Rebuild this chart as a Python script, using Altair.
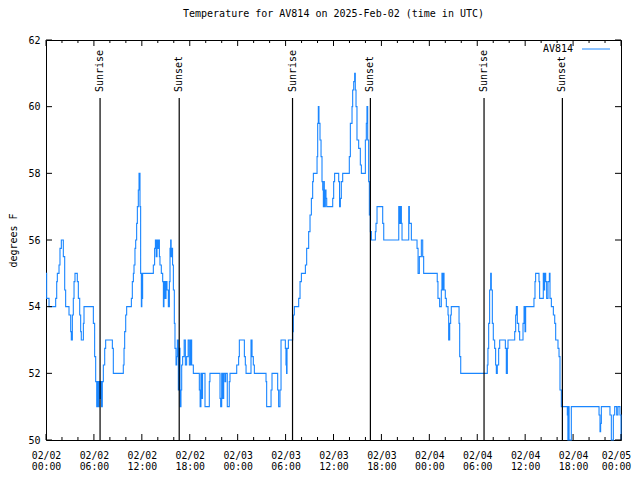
import altair as alt
import pandas as pd

# ---- data (hours since 2025-02-02 00:00 UTC, temperature in F; step-after) ----
hours = [
    0.0, 0.08, 0.38, 1.21, 1.34, 1.42, 1.63, 1.75, 1.92, 2.17, 2.34, 2.46, 2.88, 3.09, 3.17,
    3.30, 3.42, 3.51, 3.63, 3.92, 4.05, 4.22, 4.34, 4.42, 4.68, 4.76, 5.93, 6.09, 6.22, 6.35,
    6.45, 6.55, 6.65, 6.75, 6.85, 6.95, 7.05, 7.18, 7.35, 7.47, 8.31, 8.43, 9.68, 9.77, 9.85,
    9.98, 10.10, 10.69, 10.81, 10.94, 11.02, 11.14, 11.23, 11.35, 11.44, 11.56, 11.65, 11.77, 11.85, 11.94,
    12.0, 12.05, 12.1, 13.44, 13.6, 13.7, 13.8, 13.9, 14.0, 14.1, 14.2, 14.27, 14.44, 14.61, 14.7,
    14.77, 14.9, 15.03, 15.15, 15.32, 15.45, 15.53, 15.61, 15.67, 15.74, 15.85, 15.95, 16.07, 16.15, 16.28,
    16.36, 16.45, 16.57, 16.65, 16.78, 16.9, 16.99, 17.11, 17.3, 17.45, 17.61, 17.8, 17.95, 18.1, 18.24,
    18.45, 19.2, 19.3, 19.4, 19.49, 19.6, 19.91, 20.45, 20.53, 21.79, 21.87, 22.0, 22.12, 22.25, 22.41,
    22.5, 22.7, 22.95, 23.04, 23.88,
    24.12, 24.21, 24.84, 24.96, 25.05, 25.67, 25.8, 25.96, 26.09, 27.55, 27.63, 28.18, 28.3, 29.01, 29.13,
    29.3, 29.43, 29.97, 30.05, 30.12, 30.18, 30.35, 30.89, 30.97, 31.1, 31.64, 31.81, 31.98, 32.48, 32.64,
    32.89, 33.06, 33.23, 33.39, 33.48, 33.94, 34.02, 34.1, 34.18, 34.31, 34.44, 34.56, 34.65, 34.73, 34.8,
    34.85, 34.98, 35.06, 35.15, 35.9,
    36.02, 36.14, 36.65, 36.76, 36.86, 36.98, 37.15, 37.98, 38.11, 38.32, 38.4, 38.53, 38.65, 38.73, 38.82,
    38.94, 39.15, 39.36, 39.49, 39.99, 40.11, 40.19, 40.28, 40.4, 40.49, 40.61, 40.74, 41.24, 41.32, 41.45,
    42.16, 42.29, 44.17, 44.3, 44.37, 44.5, 44.58, 45.42, 45.5, 45.75, 46.46, 46.59, 46.75, 47.0, 47.17,
    47.29,
    48.99, 49.08, 49.29, 49.5, 49.58, 49.65, 49.71, 49.84, 50.0, 50.13, 50.34, 50.42, 50.55, 50.67, 50.75,
    51.72, 51.8, 51.93, 55.26, 55.34, 55.43, 55.55, 55.68, 55.76, 55.89, 56.01, 56.18, 56.3, 56.39, 56.51,
    56.68, 56.81, 57.52, 57.64, 57.77, 57.85, 58.69, 58.81, 58.9, 59.02, 59.19, 59.31, 59.73, 59.86, 59.98,
    60.06, 61.1, 61.23, 61.31, 61.73, 61.81, 62.27, 62.35, 62.44, 62.57, 62.69, 62.86, 63.03, 63.11, 63.28,
    63.53, 63.7, 63.82, 64.11, 64.24, 64.36, 64.53, 65.28, 65.35, 65.41, 65.5, 65.78, 69.25, 69.37, 69.45,
    69.54, 70.62, 70.79, 71.04, 71.21, 71.46, 71.62, 71.87, 72.0,
]
temps_f = [
    55.0, 54.25, 54.0, 54.25, 54.75, 55.0, 55.25, 55.75, 56.0, 55.5, 54.5, 54.0, 53.75, 53.25, 53.0,
    53.75, 54.25, 54.75, 55.0, 54.75, 54.25, 53.75, 53.25, 53.0, 53.5, 54.0, 53.5, 52.5, 51.75, 51.0,
    51.75, 51.0, 51.75, 51.25, 51.75, 51.0, 51.75, 52.25, 52.75, 53.0, 52.75, 52.0, 52.25, 52.75, 53.25,
    53.75, 54.0, 54.25, 54.75, 55.0, 55.25, 55.75, 56.0, 56.5, 57.0, 57.5, 58.0, 57.0, 55.0, 54.0,
    55.0, 54.25, 55.0, 55.25, 55.75, 56.0, 55.5, 56.0, 55.75, 56.0, 55.5, 55.25, 55.0, 54.75, 54.0,
    54.75, 54.25, 54.75, 54.5, 54.0, 54.75, 55.75, 56.0, 55.5, 55.75, 55.25, 54.5, 53.5, 52.75, 52.25,
    52.5, 53.0, 51.5, 52.75, 51.0, 51.5, 52.25, 52.5, 53.0, 52.25, 52.5, 53.0, 52.25, 53.0, 52.25,
    52.0, 51.5, 51.0, 52.0, 51.25, 52.0, 51.0, 51.75, 52.0, 51.25, 51.0, 52.0, 51.25, 52.0, 51.75,
    52.0, 51.0, 51.75, 52.0, 52.25,
    52.5, 53.0, 52.5, 52.25, 52.0, 53.0, 52.5, 52.25, 52.0, 51.75, 51.0, 51.5, 52.0, 51.5, 51.0,
    51.5, 53.0, 52.75, 52.25, 52.0, 52.75, 53.0, 53.25, 53.75, 54.0, 54.25, 54.75, 55.0, 55.25, 55.75,
    56.25, 56.75, 57.25, 57.75, 58.0, 58.5, 59.5, 60.0, 59.5, 59.0, 58.5, 57.75, 57.5, 57.0, 57.75,
    57.0, 57.5, 57.25, 57.0, 57.25,
    57.75, 58.0, 57.75, 57.0, 57.25, 57.75, 58.0, 58.5, 59.5, 60.0, 60.5, 60.75, 61.0, 60.5, 60.0,
    59.0, 58.75, 58.25, 58.0, 59.0, 59.5, 60.0, 59.0, 57.75, 56.75, 56.25, 56.0, 56.25, 56.5, 57.0,
    56.5, 56.0, 57.0, 56.5, 57.0, 56.5, 56.0, 57.0, 56.5, 56.0, 55.75, 55.0, 55.5, 56.0, 55.5,
    55.0,
    54.75, 54.25, 54.0, 54.5, 55.0, 54.5, 55.0, 54.5, 54.25, 54.0, 53.75, 53.0, 53.5, 53.75, 54.0,
    53.5, 52.5, 52.0, 52.25, 52.75, 53.5, 54.5, 55.0, 54.5, 53.5, 53.0, 52.75, 52.25, 52.0, 52.25,
    52.75, 53.0, 52.75, 52.0, 52.75, 53.0, 53.25, 53.75, 54.0, 53.5, 53.25, 53.0, 53.5, 54.0, 53.25,
    54.0, 54.25, 54.75, 55.0, 54.75, 54.25, 55.0, 54.5, 55.0, 54.75, 54.25, 54.75, 55.0, 54.25, 54.0,
    53.75, 53.5, 53.0, 52.75, 52.5, 51.5, 51.0, 50.75, 50.0, 51.0, 50.0, 51.0, 50.75, 50.25, 50.5,
    51.0, 50.75, 50.0, 50.75, 51.0, 50.75, 51.0, 50.75, 50.0,
]

sunrise_h = [6.77, 30.87, 54.85]
sunset_h = [16.68, 40.62, 64.66]
x_major_ticks = [0, 6, 12, 18, 24, 30, 36, 42, 48, 54, 60, 66, 72]
x_minor_ticks = [2, 4, 8, 10, 14, 16, 20, 22, 26, 28, 32, 34, 38, 40, 44, 46, 50, 52, 56, 58, 62, 64, 68, 70]
y_ticks = [50, 52, 54, 56, 58, 60, 62]
series_name = ["AV814"]

FONT = "DejaVu Sans Mono"
BLUE = "#1a86ff"
W, H = 575, 400

df = pd.DataFrame({"h": hours, "t": temps_f})
xs = alt.Scale(domain=[0, 72], nice=False, zero=False)
ys = alt.Scale(domain=[50, 62], nice=False, zero=False)

label_expr = ("['02/0' + (2 + floor(datum.value / 24)), "
              "((datum.value % 24) < 10 ? '0' : '') + (datum.value % 24) + ':00']")

x_axis = alt.Axis(
    values=x_major_ticks, labelExpr=label_expr, ticks=False, domain=False, grid=False,
    title=None, labelFont=FONT, labelFontSize=9.8, labelColor="black", labelPadding=10,
    labelLineHeight=11, labelAngle=0, labelFlush=False, labelOverlap=False,
    labelOffset={"condition": {"test": "datum.value >= 72", "value": -5}, "value": 0})
y_axis = alt.Axis(
    values=y_ticks, format="d", ticks=False, domain=False, grid=False,
    title="degrees F", titleFont=FONT, titleFontSize=10, titleFontWeight="normal",
    titleColor="black", labelFont=FONT, labelFontSize=10, labelColor="black",
    labelPadding=6, titlePadding=9, labelFlush=False, labelOverlap=False)

line = alt.Chart(df).mark_line(interpolate="step-after", color=BLUE, strokeWidth=1.1).encode(
    x=alt.X("h:Q", scale=xs, axis=x_axis),
    y=alt.Y("t:Q", scale=ys, axis=y_axis),
)

def xticks(vals, y0, y1):
    return alt.Chart(pd.DataFrame({"h": vals})).mark_rule(color="black", strokeWidth=1).encode(
        x=alt.X("h:Q", scale=xs, axis=x_axis), y=alt.value(y0), y2=alt.value(y1))

def yticks(vals, x0, x1):
    return alt.Chart(pd.DataFrame({"t": vals})).mark_rule(color="black", strokeWidth=1).encode(
        y=alt.Y("t:Q", scale=ys, axis=y_axis), x=alt.value(x0), x2=alt.value(x1))

ticks = [
    xticks(x_major_ticks, H, H - 6), xticks(x_major_ticks, 0, 6),
    xticks(x_minor_ticks, H, H - 3), xticks(x_minor_ticks, 0, 3),
    yticks(y_ticks, 0, 6), yticks(y_ticks, W, W - 6),
]

sun = pd.DataFrame({
    "h": sunrise_h + sunset_h,
    "label": ["Sunrise"] * len(sunrise_h) + ["Sunset"] * len(sunset_h),
})
sun_rules = alt.Chart(sun).mark_rule(color="black", strokeWidth=1.2).encode(
    x=alt.X("h:Q", scale=xs, axis=x_axis), y=alt.value(58), y2=alt.value(H))
sun_text = alt.Chart(sun).mark_text(
    angle=270, align="left", baseline="middle", font=FONT, fontSize=10, color="black"
).encode(x=alt.X("h:Q", scale=xs, axis=x_axis), y=alt.value(52), text="label:N")

leg = pd.DataFrame({"name": series_name})
leg_text = alt.Chart(leg).mark_text(
    align="right", baseline="middle", font=FONT, fontSize=10, color="black"
).encode(x=alt.value(527), y=alt.value(9), text="name:N")
leg_line = alt.Chart(leg).mark_rule(color=BLUE, strokeWidth=1).encode(
    x=alt.value(536), x2=alt.value(564), y=alt.value(9))

chart = alt.layer(line, *ticks, sun_rules, sun_text, leg_text, leg_line).properties(
    width=W, height=H,
    title=alt.Title("Temperature for AV814 on 2025-Feb-02 (time in UTC)", font=FONT,
                    fontSize=10, fontWeight="normal", color="black", offset=16),
    autosize=alt.AutoSizeParams(type="none"),
    padding={"left": 38, "top": 32, "right": 11, "bottom": 30},
).configure_view(stroke="black", strokeWidth=1)

chart.save("out.html", embed_options={"renderer": "svg", "actions": False})
